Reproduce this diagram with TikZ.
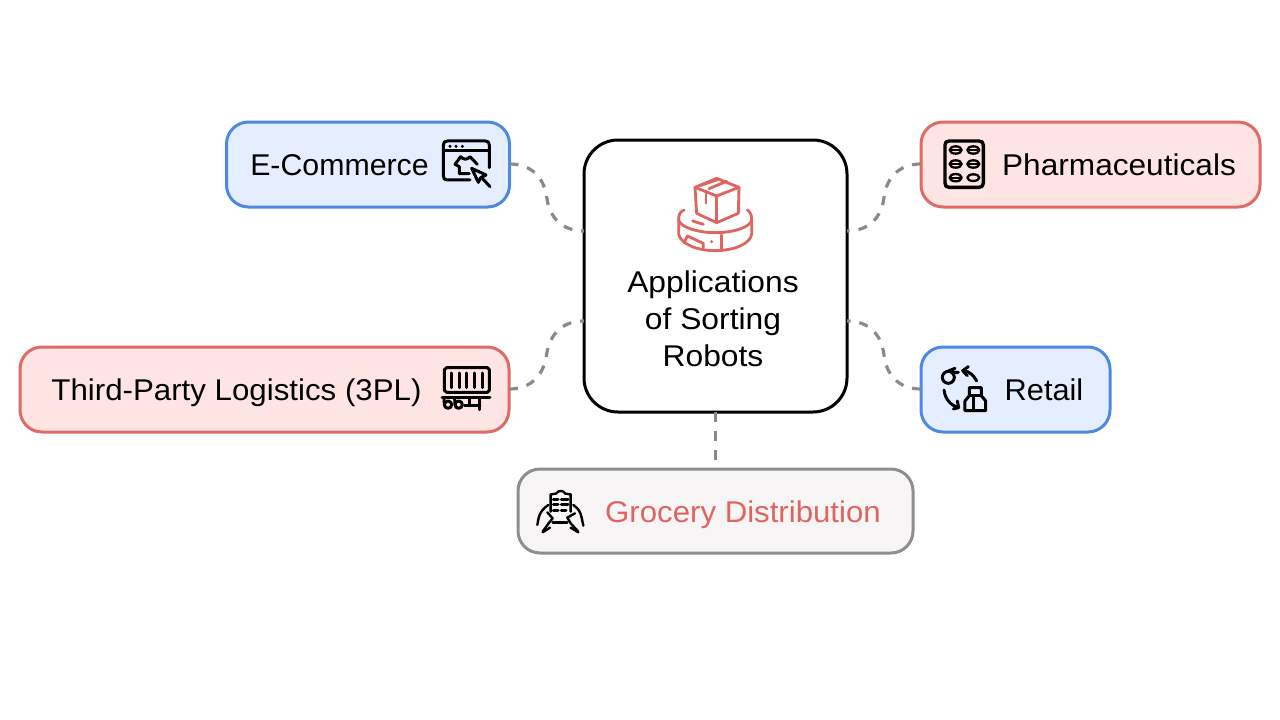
\documentclass[tikz,border=0pt]{standalone}
\usepackage{fontspec}
\setmainfont{Liberation Sans}
\usetikzlibrary{calc}
\definecolor{bluefill}{HTML}{E4EEFF}
\definecolor{blueline}{HTML}{4F88E0}
\definecolor{redfill}{HTML}{FFE4E4}
\definecolor{redline}{HTML}{E06A66}
\definecolor{greyfill}{HTML}{F7F5F5}
\definecolor{greyline}{HTML}{8E8E8E}
\definecolor{dashgrey}{HTML}{8A8A8A}
\definecolor{iconred}{HTML}{E0645F}
\tikzset{
  x=1pt,y=-1pt,
  boxshape/.style={draw,rounded corners=22pt,line width=3pt,inner sep=0pt,outer sep=0pt},
  bluebox/.style={boxshape,draw=blueline,fill=bluefill},
  redbox/.style={boxshape,draw=redline,fill=redfill},
  greybox/.style={boxshape,draw=greyline,fill=greyfill},
  corebox/.style={draw=black,fill=white,rounded corners=34pt,line width=3pt,inner sep=0pt,outer sep=0pt},
  lab/.style={inner sep=0pt,font=\fontsize{30}{37}\selectfont,anchor=base},
  link/.style={draw=dashgrey,line width=3.2pt,dash pattern=on 9pt off 9pt},
  straightlink/.style={draw=dashgrey,line width=3.2pt,dash pattern=on 9.5pt off 9.5pt},
  icon/.style={line width=3pt,line cap=round,line join=round},
  iconthin/.style={line width=2.4pt,line cap=round,line join=round},
}
\begin{document}
\begin{tikzpicture}
\useasboundingbox (0,0) rectangle (1280,720);
\fill[white] (0,0) rectangle (1280,720);
% boxes
\node[corebox,minimum width=263pt,minimum height=272pt,anchor=north west] (core) at (584,140) {};
\node[bluebox,minimum width=283pt,minimum height=85pt,anchor=north west] (ecom) at (226.5,122) {};
\node[redbox,minimum width=339pt,minimum height=85pt,anchor=north west] (pharma) at (921,122) {};
\node[redbox,minimum width=489pt,minimum height=85pt,anchor=north west] (tpl) at (20,347) {};
\node[bluebox,minimum width=189pt,minimum height=85pt,anchor=north west] (retail) at (921,347) {};
\node[greybox,minimum width=395pt,minimum height=84pt,anchor=north west] (groc) at (518,469) {};
% labels
\node[lab] (tcore1) at (713,292.5) {\scalebox{1.06}[1]{Applications}};
\node[lab] (tcore2) at (713,329.5) {\scalebox{1.06}[1]{of Sorting}};
\node[lab] (tcore3) at (713,366.5) {\scalebox{1.06}[1]{Robots}};
\node[lab] (tecom) at (339.5,175.5) {\scalebox{1.01}[1]{E-Commerce}};
\node[lab] (tpharma) at (1119,175.5) {\scalebox{1.054}[1]{Pharmaceuticals}};
\node[lab] (ttpl) at (236.5,400.5) {\scalebox{1.042}[1]{Third-Party Logistics (3PL)}};
\node[lab] (tretail) at (1044,400.5) {\scalebox{1.025}[1]{Retail}};
\node[lab,text=iconred] (tgroc) at (743,522.5) {\scalebox{1.04}[1]{Grocery Distribution}};
% connector ends on the core box
\coordinate (c1) at ($(core.north west)+(0,91)$);
\coordinate (c2) at ($(core.north east)+(0,91)$);
\coordinate (c3) at ($(core.north west)+(0,181)$);
\coordinate (c4) at ($(core.north east)+(0,181)$);
\coordinate (e1) at ($(ecom.north east)+(0,42)$);
\coordinate (e2) at ($(pharma.north west)+(0,42)$);
\coordinate (e3) at ($(tpl.north east)+(0,42)$);
\coordinate (e4) at ($(retail.north west)+(0,42)$);
\draw[link] (e1) .. controls ($(e1)+(22,0)$) and ($(e1)+(34.5,13.5)$) .. ($(e1)!.5!(c1)$) .. controls ($(c1)+(-34.5,-13.5)$) and ($(c1)+(-22,0)$) .. (c1);
\draw[link] (e2) .. controls ($(e2)+(-22,0)$) and ($(e2)+(-34.5,13.5)$) .. ($(e2)!.5!(c2)$) .. controls ($(c2)+(34.5,-13.5)$) and ($(c2)+(22,0)$) .. (c2);
\draw[link] (e3) .. controls ($(e3)+(22,0)$) and ($(e3)+(34.5,-13.5)$) .. ($(e3)!.5!(c3)$) .. controls ($(c3)+(-34.5,13.5)$) and ($(c3)+(-22,0)$) .. (c3);
\draw[link] (e4) .. controls ($(e4)+(-22,0)$) and ($(e4)+(-34.5,-13.5)$) .. ($(e4)!.5!(c4)$) .. controls ($(c4)+(34.5,13.5)$) and ($(c4)+(22,0)$) .. (c4);
\draw[straightlink] (core.south -| groc.north) -- (groc.north);
% core icon
\begin{scope}[shift={(640,160)},x=.3333pt,y=-.3333pt,icon,draw=iconred,line width=2.8pt]
\draw (230,55) -- (297,82) -- (295,160) -- (230,188) -- (170,160) -- (165,82) -- cycle;
\draw (165,82) -- (230,108) -- (297,82);
\draw (230,108) -- (230,188);
\draw (183,76) -- (235,58);
\draw (207,86) -- (260,64);
\draw (198,92) -- (198,130);
\draw (132,150) .. controls (120,155) and (115,165) .. (116,180) .. controls (120,200) and (170,218) .. (225,218) .. controls (285,218) and (332,200) .. (335,180) .. controls (336,165) and (330,155) .. (322,150);
\draw (116,180) -- (116,222) .. controls (120,250) and (170,272) .. (225,272) .. controls (285,272) and (332,250) .. (335,222) -- (335,180);
\draw (158,183) -- (190,193);
\draw (245,225) -- (245,272);
\draw (132,248) -- (142,228) -- (190,250) -- (190,263);
\fill[iconred] (215,245) circle (5);
\end{scope}
% ecommerce icon
\begin{scope}[shift={(430,125)},x=.3333pt,y=-.3333pt,icon]
\draw (178,128) -- (178,60) .. controls (178,52) and (174,48) .. (166,48) -- (52,48) .. controls (44,48) and (40,52) .. (40,60) -- (40,153) .. controls (40,161) and (44,165) .. (52,165) -- (120,165);
\draw (40,76) -- (178,76);
\fill (60,64) circle (5) (78,64) circle (5) (97,64) circle (5);
\draw (92,95) -- (75,118) -- (88,125) -- (88,146) -- (118,146);
\draw (92,95) .. controls (100,105) and (112,105) .. (120,95) -- (142,118);
\draw (125,130) -- (168,150) -- (152,158) -- (145,172) -- cycle;
\draw (155,158) -- (180,185);
\end{scope}
% pharma icon
\begin{scope}[shift={(840,125)},x=.3333pt,y=-.3333pt,icon]
\draw[line width=3.4pt] (328,48) -- (417,48) .. controls (426,48) and (430,52) .. (430,61) -- (430,174) .. controls (430,183) and (426,187) .. (417,187) -- (328,187) .. controls (319,187) and (315,183) .. (315,174) -- (315,61) .. controls (315,52) and (319,48) .. (328,48) -- cycle;
\foreach \px/\py in {347/75,400/75,347/117,400/117,347/158}{
  \draw[line width=2.3pt] (\px,\py) ellipse (18 and 11);
  \draw[line width=2.3pt] (\px-17,\py) -- (\px+17,\py);
}
\draw[line width=2.3pt] (400,158) ellipse (18 and 10);
\end{scope}
% 3PL icon
\begin{scope}[shift={(430,315)},x=.3333pt,y=-.3333pt,icon]
\draw (50,158) -- (172,158) -- (178,164) -- (178,226) -- (172,232) -- (50,232) -- (43,226) -- (43,164) -- cycle;
\foreach \bx in {65,88,110,133,157}{\draw (\bx,174) -- (\bx,218);}
\draw (36,248) -- (180,248);
\draw (54,269) circle (11) (86,269) circle (11);
\draw (42,252) -- (43,266) (74,252) -- (75,266);
\draw (104,272) -- (150,272);
\draw (148,250) -- (148,284) (118,250) -- (118,272);
\end{scope}
% retail icon
\begin{scope}[shift={(840,315)},x=.3333pt,y=-.3333pt,icon]
\draw (325,187) circle (18);
\draw (325,168) -- (345,160) (335,172) -- (355,172);
\draw (410,198) .. controls (400,180) and (390,170) .. (370,167);
\draw (385,155) -- (368,167) -- (382,182);
\draw (312,225) .. controls (315,250) and (330,270) .. (355,278);
\draw (340,282) -- (356,278) -- (352,258);
\draw (375,287) -- (375,258) -- (388,242) -- (388,218) -- (424,218) -- (424,242) -- (437,258) -- (437,287) -- cycle;
\draw (388,242) -- (424,242);
\draw (402,245) -- (402,287);
\end{scope}
% grocery icon
\begin{scope}[shift={(510,405)},x=.3333pt,y=-.3333pt,iconthin]
\draw (122,320) -- (122,268) -- (138,266) .. controls (145,255) and (160,255) .. (166,266) -- (182,268) -- (182,320);
\draw (128,352) -- (172,352);
\draw[line width=3pt] (130,284) -- (144,284) (154,284) -- (174,284) (130,300) -- (144,300) (154,300) -- (174,300) (130,316) -- (144,316) (154,316) -- (168,316);
\draw (115,300) .. controls (100,310) and (90,322) .. (86,338) -- (82,360);
\draw (112,322) -- (128,340) -- (118,352) -- (98,380);
\draw (98,382) -- (120,368);
\draw (190,300) .. controls (205,310) and (212,322) .. (215,338) -- (220,362);
\draw (195,325) -- (172,338) -- (182,355) -- (205,380);
\draw (182,368) -- (205,382);
\end{scope}
\end{tikzpicture}
\end{document}
